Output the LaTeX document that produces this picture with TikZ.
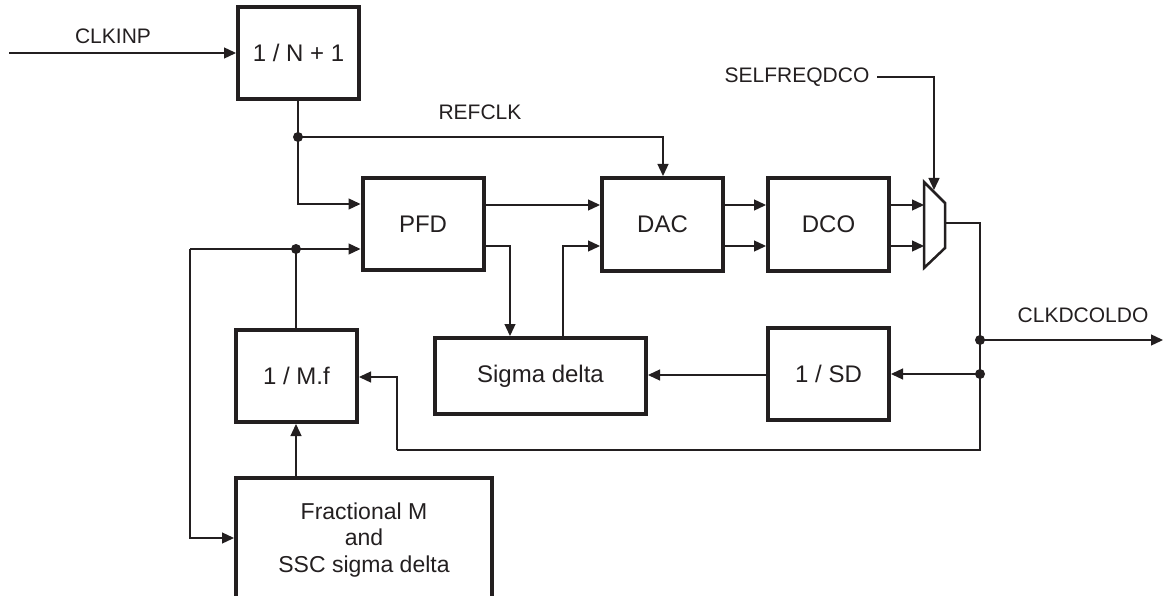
\documentclass[tikz,border=0pt]{standalone}
\usepackage{fontspec}
\setmainfont{Liberation Sans}
\usetikzlibrary{arrows.meta,calc}
\definecolor{ink}{HTML}{231F20}
\begin{document}
\begin{tikzpicture}[x=1pt,y=-1pt,
  blk/.style={draw=ink,line width=4pt,inner sep=0pt,minimum width=121pt,minimum height=92pt,font=\fontsize{24}{28}\selectfont,text=ink,align=center},
  lbl/.style={font=\fontsize{21}{24}\selectfont,text=ink,inner sep=0pt},
  wire/.style={draw=ink,line width=1.3pt},
  arr/.style={wire,-{Triangle[length=12pt,width=11pt]}},
  dotn/.style={circle,fill=ink,inner sep=0pt,minimum size=10pt}]
\useasboundingbox (0,0) rectangle (1164,596);
% blocks
\node[blk] (divN) at (298.5,53) {1 / N + 1};
\node[blk] (pfd) at (423,224) {PFD};
\node[blk,minimum height=93pt] (dac) at (662.5,224.5) {DAC};
\node[blk,minimum height=93pt] (dco) at (828.5,224.5) {DCO};
\node[blk] (sd) at (828.5,374) {1 / SD};
\node[blk,minimum width=211pt,minimum height=76pt] (sig) at (540.5,376) {Sigma delta};
\node[blk] (mf) at (296.5,376) {1 / M.f};
\node[blk,minimum width=256pt,minimum height=124pt,font=\fontsize{23}{26.5}\selectfont] (frac) at (364,540) {Fractional M\\and\\SSC sigma delta};
% mux
\coordinate (mA) at (924,182);
\coordinate (mB) at (945,203);
\coordinate (mC) at (945,248);
\coordinate (mD) at (924,268);
\coordinate (mout) at (945,223);
\draw[draw=ink,line width=2.5pt,line join=miter] (mA) -- (mB) -- (mC) -- (mD) -- cycle;
% labels
\node[lbl] (lclk) at (113,36) {CLKINP};
\node[lbl] (lref) at (480,112) {REFCLK};
\node[lbl] (lsel) at (797,77) {SELFREQDCO};
\node[lbl] (lout) at (1083,315) {CLKDCOLDO};
% coordinates
\coordinate (cin) at (9,53);
\coordinate (j1) at (298,137);
\coordinate (j3) at (296,249);
\coordinate (jfb) at (190,249);
\coordinate (j4) at (980,340);
\coordinate (j5) at (980,374);
\coordinate (cout) at (1163,340);
\coordinate (cfb) at (397,450);
\coordinate (csel) at (877,77);
% connectors
\draw[arr] (cin) -- (divN.west |- cin);
\draw[wire] (divN.south -| j1) -- (j1);
\draw[arr] (j1) |- (pfd.west |- 0,204);
\draw[arr] (j1) -| (dac.north -| 663,0);
\draw[arr] (pfd.east |- 0,205) -- (dac.west |- 0,205);
\draw[arr] (pfd.east |- 0,246) -| (sig.north -| 510,0);
\draw[arr] (sig.north -| 563,0) |- (dac.west |- 0,246);
\draw[arr] (dac.east |- 0,205) -- (dco.west |- 0,205);
\draw[arr] (dac.east |- 0,246) -- (dco.west |- 0,246);
\draw[arr] (dco.east |- 0,205) -- (mA |- 0,205);
\draw[arr] (dco.east |- 0,246) -- (mA |- 0,246);
\draw[arr] (csel) -| (934,190);
\draw[wire] (mout) -| (j4) -- (j5) |- (cfb);
\draw[arr] (cfb) |- (mf.east |- 0,377);
\draw[arr] (j4) -- (cout);
\draw[arr] (j5) -- (sd.east |- j5);
\draw[arr] (sd.west |- 0,375) -- (sig.east |- 0,375);
\draw[wire] (mf.north -| j3) -- (j3);
\draw[arr] (jfb) -- (pfd.west |- jfb);
\draw[arr] (jfb) |- (frac.west |- 0,538);
\draw[arr] (frac.north -| 296,0) -- (mf.south -| 296,0);
\node[dotn] at (j1) {};
\node[dotn] at (j3) {};
\node[dotn] at (j4) {};
\node[dotn] at (j5) {};
\end{tikzpicture}
\end{document}
